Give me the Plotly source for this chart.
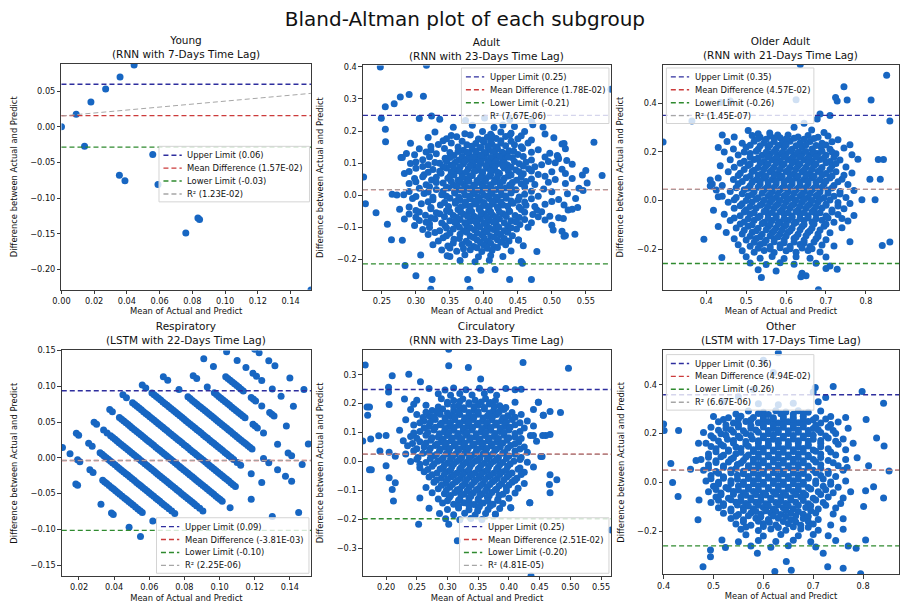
import plotly.graph_objects as go

W, H = 902, 607
FONT = "DejaVu Sans"
POINT_COLOR = "#1766c2"

# ---------------------------------------------------------------- data
panel_names = ["Young", "Adult", "Older Adult", "Respiratory", "Circulatory", "Other"]
model_labels = [
    "RNN with 7-Days Time Lag", "RNN with 23-Days Time Lag", "RNN with 21-Days Time Lag",
    "LSTM with 22-Days Time Lag", "RNN with 23-Days Time Lag", "LSTM with 17-Days Time Lag",
]

# Bland-Altman summary of each subgroup
mean_diff = [1.57e-2, 1.78e-2, 4.57e-2, -3.81e-3, 2.51e-2, 4.94e-2]
upper_limit = [0.0598, 0.2488, 0.3507, 0.0937, 0.2486, 0.3584]
lower_limit = [-0.0284, -0.2132, -0.2593, -0.1013, -0.1984, -0.2596]
r_squared = [1.23e-2, 7.67e-6, 1.45e-7, 2.25e-6, 4.81e-5, 6.67e-6]
fit_slope = [0.208, 0.0, 0.0, 0.0, 0.0, 0.0]
fit_intercept = [0.0153, 0.0178, 0.0457, -0.0038, 0.0251, 0.0494]

# (mean of actual and predicted, actual - predicted)
young_points = [
    (0.0, 0.0), (0.009, 0.0176), (0.018, 0.035), (0.027, 0.053), (0.0358, 0.070),
    (0.0444, 0.087), (0.0141, -0.0273), (0.0558, -0.0389), (0.0354, -0.068),
    (0.0388, -0.0755), (0.059, -0.081), (0.076, -0.149), (0.0834, -0.128),
    (0.0844, -0.130), (0.1525, -0.229),
]

adult_points = [
    (0.335,0.237),(0.373,0.233),(0.401,0.241),(0.438,0.236),(0.47,0.232),
    (0.355,0.212),(0.383,0.218),(0.415,0.211),(0.428,0.219),(0.445,0.214),(0.472,0.22),(0.487,0.213),
    (0.328,0.197),(0.372,0.192),(0.398,0.199),(0.41,0.19),(0.425,0.197),(0.44,0.193),(0.46,0.199),(0.49,0.191),
    (0.318,0.18),(0.345,0.176),(0.36,0.182),(0.392,0.175),(0.405,0.181),(0.418,0.177),(0.432,0.183),(0.45,0.176),(0.503,0.179),
    (0.292,0.162),(0.333,0.158),(0.352,0.163),(0.375,0.157),(0.388,0.161),(0.4,0.165),(0.412,0.158),(0.425,0.162),(0.445,0.157),(0.465,0.163),(0.515,0.16),
    (0.305,0.145),(0.322,0.141),(0.342,0.146),(0.37,0.14),(0.383,0.144),(0.396,0.148),(0.407,0.141),(0.42,0.145),(0.437,0.139),(0.457,0.146),(0.48,0.142),(0.52,0.145),
    (0.286,0.13),(0.298,0.126),(0.33,0.129),(0.356,0.124),(0.378,0.13),(0.392,0.126),(0.403,0.131),(0.418,0.125),(0.43,0.129),(0.45,0.127),(0.497,0.131),(0.508,0.124),
    (0.278,0.118),(0.31,0.111),(0.343,0.115),(0.363,0.109),(0.376,0.114),(0.388,0.11),(0.401,0.116),(0.412,0.109),(0.428,0.113),(0.442,0.117),(0.47,0.11),(0.51,0.114),(0.522,0.108),
    (0.292,0.099),(0.318,0.095),(0.335,0.1),(0.352,0.094),(0.37,0.098),(0.385,0.093),(0.396,0.1),(0.41,0.095),(0.421,0.099),(0.435,0.094),(0.452,0.098),(0.485,0.095),(0.505,0.101),(0.53,0.097),
    (0.30,0.084),(0.325,0.08),(0.345,0.085),(0.36,0.079),(0.377,0.083),(0.39,0.078),(0.405,0.084),(0.415,0.08),(0.43,0.085),(0.447,0.079),(0.466,0.083),(0.515,0.081),
    (0.283,0.068),(0.312,0.064),(0.337,0.069),(0.356,0.063),(0.368,0.067),(0.383,0.062),(0.398,0.068),(0.41,0.064),(0.423,0.069),(0.44,0.063),(0.458,0.067),(0.48,0.065),(0.52,0.068),(0.545,0.063),
    (0.298,0.052),(0.323,0.048),(0.347,0.053),(0.362,0.047),(0.375,0.051),(0.39,0.046),(0.403,0.052),(0.416,0.048),(0.43,0.053),(0.448,0.047),(0.47,0.051),(0.505,0.049),(0.53,0.052),
    (0.29,0.037),(0.315,0.033),(0.34,0.038),(0.355,0.032),(0.37,0.036),(0.385,0.031),(0.397,0.037),(0.41,0.033),(0.424,0.038),(0.438,0.032),(0.455,0.036),(0.475,0.034),(0.52,0.037),
    (0.305,0.022),(0.33,0.018),(0.348,0.023),(0.365,0.017),(0.378,0.021),(0.392,0.016),(0.404,0.022),(0.418,0.018),(0.432,0.023),(0.447,0.017),(0.488,0.02),(0.54,0.022),
    (0.265,0.003),(0.272,0.001),(0.282,0.002),(0.312,0.006),(0.338,0.002),(0.357,0.007),(0.372,0.001),(0.386,0.005),(0.4,0.0),(0.412,0.006),(0.426,0.002),(0.44,0.007),(0.46,0.003),(0.523,0.005),
    (0.295,-0.01),(0.325,-0.014),(0.35,-0.009),(0.365,-0.015),(0.38,-0.011),(0.394,-0.016),(0.408,-0.01),(0.42,-0.014),(0.433,-0.009),(0.45,-0.015),(0.47,-0.011),(0.51,-0.013),(0.535,-0.01),
    (0.308,-0.026),(0.336,-0.03),(0.358,-0.025),(0.372,-0.031),(0.388,-0.027),(0.402,-0.032),(0.414,-0.026),(0.428,-0.03),(0.443,-0.025),(0.462,-0.031),(0.49,-0.028),(0.518,-0.03),
    (0.276,-0.043),(0.3,-0.047),(0.322,-0.042),(0.345,-0.048),(0.362,-0.044),(0.378,-0.049),(0.393,-0.043),(0.407,-0.047),(0.421,-0.042),(0.437,-0.048),(0.455,-0.044),(0.478,-0.046),(0.53,-0.043),
    (0.29,-0.058),(0.314,-0.062),(0.335,-0.057),(0.355,-0.063),(0.37,-0.059),(0.385,-0.064),(0.4,-0.058),(0.413,-0.062),(0.428,-0.057),(0.446,-0.063),(0.472,-0.06),(0.497,-0.065),(0.51,-0.07),
    (0.283,-0.074),(0.305,-0.078),(0.328,-0.073),(0.35,-0.079),(0.365,-0.075),(0.38,-0.08),(0.395,-0.074),(0.408,-0.078),(0.423,-0.073),(0.44,-0.079),(0.46,-0.075),(0.49,-0.077),(0.517,-0.072),
    (0.258,-0.09),(0.298,-0.094),(0.32,-0.089),(0.343,-0.095),(0.36,-0.091),(0.375,-0.096),(0.39,-0.09),(0.404,-0.094),(0.418,-0.089),(0.435,-0.095),(0.453,-0.091),(0.5,-0.093),
    (0.31,-0.106),(0.335,-0.11),(0.355,-0.105),(0.37,-0.111),(0.386,-0.107),(0.4,-0.112),(0.414,-0.106),(0.43,-0.11),(0.448,-0.105),(0.502,-0.108),(0.515,-0.112),
    (0.318,-0.122),(0.345,-0.126),(0.365,-0.121),(0.38,-0.127),(0.397,-0.123),(0.41,-0.128),(0.425,-0.122),(0.442,-0.126),(0.52,-0.125),(0.534,-0.121),
    (0.264,-0.138),(0.28,-0.14),(0.333,-0.142),(0.356,-0.137),(0.374,-0.143),(0.39,-0.139),(0.405,-0.144),(0.42,-0.138),(0.437,-0.142),(0.451,-0.139),
    (0.325,-0.154),(0.347,-0.158),(0.368,-0.153),(0.385,-0.159),(0.4,-0.155),(0.415,-0.16),(0.432,-0.154),(0.458,-0.157),
    (0.338,-0.17),(0.36,-0.174),(0.38,-0.169),(0.397,-0.175),(0.412,-0.171),(0.44,-0.173),(0.478,-0.175),
    (0.307,-0.186),(0.35,-0.19),(0.372,-0.185),(0.392,-0.191),(0.41,-0.187),(0.428,-0.19),
    (0.365,-0.203),(0.387,-0.207),(0.408,-0.202),(0.455,-0.206),
    (0.352,0.186),(0.38,0.188),(0.412,0.184),(0.438,0.187),(0.455,0.185),
    (0.34,0.17),(0.368,0.168),(0.398,0.171),(0.41,0.167),(0.425,0.17),(0.44,0.168),(0.47,0.172),
    (0.322,0.152),(0.362,0.15),(0.382,0.153),(0.394,0.149),(0.406,0.152),(0.418,0.15),(0.432,0.154),(0.455,0.151),
    (0.315,0.135),(0.35,0.133),(0.362,0.136),(0.375,0.134),(0.388,0.137),(0.4,0.133),(0.413,0.136),(0.427,0.134),(0.444,0.137),(0.47,0.134),
    (0.32,0.12),(0.35,0.118),(0.368,0.121),(0.384,0.119),(0.396,0.122),(0.41,0.118),(0.423,0.121),(0.436,0.119),(0.458,0.121),(0.49,0.119),
    (0.3,0.104),(0.328,0.102),(0.345,0.105),(0.358,0.103),(0.372,0.106),(0.382,0.102),(0.394,0.105),(0.406,0.103),(0.418,0.106),(0.43,0.102),(0.445,0.105),(0.462,0.103),(0.495,0.105),
    (0.31,0.09),(0.34,0.088),(0.355,0.091),(0.365,0.089),(0.38,0.092),(0.392,0.088),(0.403,0.091),(0.416,0.089),(0.428,0.092),(0.44,0.088),(0.458,0.091),(0.475,0.089),
    (0.29,0.074),(0.318,0.072),(0.335,0.075),(0.352,0.073),(0.364,0.076),(0.374,0.072),(0.386,0.075),(0.398,0.073),(0.41,0.076),(0.42,0.072),(0.436,0.075),(0.452,0.073),(0.47,0.076),(0.5,0.073),
    (0.31,0.058),(0.33,0.056),(0.35,0.059),(0.368,0.057),(0.38,0.06),(0.395,0.056),(0.408,0.059),(0.42,0.057),(0.436,0.06),(0.455,0.057),(0.49,0.059),
    (0.3,0.042),(0.33,0.04),(0.352,0.043),(0.365,0.041),(0.378,0.044),(0.39,0.04),(0.402,0.043),(0.415,0.041),(0.428,0.044),(0.442,0.04),(0.462,0.043),(0.495,0.041),
    (0.32,0.027),(0.345,0.025),(0.36,0.028),(0.373,0.026),(0.386,0.029),(0.398,0.025),(0.41,0.028),(0.424,0.026),(0.44,0.029),(0.46,0.026),
    (0.29,0.012),(0.318,0.01),(0.34,0.013),(0.357,0.011),(0.37,0.014),(0.384,0.01),(0.397,0.013),(0.41,0.011),(0.425,0.014),(0.44,0.01),(0.47,0.013),(0.5,0.011),
    (0.3,-0.004),(0.325,-0.006),(0.345,-0.003),(0.363,-0.005),(0.378,-0.002),(0.392,-0.006),(0.405,-0.003),(0.418,-0.005),(0.432,-0.002),(0.452,-0.005),(0.48,-0.003),
    (0.318,-0.02),(0.342,-0.022),(0.358,-0.019),(0.373,-0.021),(0.386,-0.018),(0.4,-0.022),(0.412,-0.019),(0.425,-0.021),(0.44,-0.018),(0.46,-0.021),(0.5,-0.019),
    (0.29,-0.036),(0.322,-0.038),(0.348,-0.035),(0.366,-0.037),(0.38,-0.034),(0.395,-0.038),(0.408,-0.035),(0.42,-0.037),(0.435,-0.034),(0.452,-0.037),(0.475,-0.035),
    (0.305,-0.052),(0.33,-0.054),(0.35,-0.051),(0.366,-0.053),(0.382,-0.05),(0.396,-0.054),(0.41,-0.051),(0.423,-0.053),(0.438,-0.05),(0.46,-0.053),(0.485,-0.051),
    (0.3,-0.068),(0.322,-0.07),(0.342,-0.067),(0.36,-0.069),(0.376,-0.066),(0.39,-0.07),(0.404,-0.067),(0.418,-0.069),(0.433,-0.066),(0.452,-0.069),(0.48,-0.067),
    (0.315,-0.084),(0.338,-0.086),(0.357,-0.083),(0.372,-0.085),(0.388,-0.082),(0.4,-0.086),(0.414,-0.083),(0.43,-0.085),(0.447,-0.082),(0.47,-0.085),
    (0.32,-0.1),(0.345,-0.102),(0.364,-0.099),(0.38,-0.101),(0.394,-0.098),(0.408,-0.102),(0.422,-0.099),(0.44,-0.101),(0.465,-0.099),
    (0.328,-0.116),(0.35,-0.118),(0.375,-0.115),(0.39,-0.117),(0.405,-0.114),(0.42,-0.118),(0.435,-0.115),
    (0.34,-0.132),(0.364,-0.134),(0.385,-0.131),(0.4,-0.133),(0.415,-0.13),(0.43,-0.134),
    (0.355,-0.148),(0.378,-0.15),(0.395,-0.147),(0.41,-0.149),(0.425,-0.146),
    (0.35,-0.164),(0.37,-0.166),(0.39,-0.163),(0.405,-0.165),(0.42,-0.162),
    (0.2476,0.399),(0.3155,0.405),(0.223,0.057),(0.2257,-0.026),(0.2413,-0.054),(0.249,0.24),(0.2549,0.276),
    (0.255,0.206),(0.2553,0.167),(0.268,0.285),(0.277,0.306),(0.29,0.314),(0.311,0.308),(0.323,0.247),(0.305,0.239),
    (0.284,-0.218),(0.3,-0.25),(0.3238,-0.262),(0.3218,-0.292),(0.3796,-0.292),(0.3762,-0.262),(0.3956,-0.233),
    (0.4165,-0.231),(0.4379,-0.262),(0.4568,-0.211),(0.47,-0.262),(0.518,-0.127),(0.524,-0.046),(0.538,-0.038),
    (0.546,0.015),(0.552,0.038),(0.55,0.077),(0.562,0.165),(0.574,0.062),(0.587,0.33),(0.518,0.161),(0.509,0.12),
    (0.451,-0.139),(0.28,0.118),(0.346,-0.188),
]

older_points = [
    (0.505,0.288),(0.53,0.275),(0.559,0.278),(0.579,0.27),(0.62,0.302),(0.645,0.318),(0.664,0.29),(0.695,0.28),(0.678,0.336),
    (0.44,0.27),(0.47,0.262),(0.515,0.268),(0.535,0.26),(0.56,0.266),(0.585,0.258),(0.605,0.27),(0.63,0.262),(0.655,0.268),(0.68,0.26),(0.705,0.266),(0.73,0.25),
    (0.452,0.243),(0.49,0.236),(0.52,0.244),(0.545,0.237),(0.57,0.243),(0.59,0.236),(0.61,0.244),(0.635,0.237),(0.66,0.243),(0.69,0.236),(0.715,0.242),(0.76,0.23),
    (0.43,0.218),(0.468,0.212),(0.5,0.219),(0.53,0.211),(0.555,0.218),(0.575,0.212),(0.595,0.219),(0.615,0.211),(0.64,0.218),(0.665,0.212),(0.688,0.219),(0.71,0.211),(0.745,0.216),
    (0.445,0.2),(0.48,0.187),(0.51,0.194),(0.54,0.186),(0.56,0.193),(0.58,0.187),(0.6,0.194),(0.62,0.186),(0.64,0.193),(0.66,0.187),(0.68,0.194),(0.7,0.186),(0.725,0.193),(0.765,0.188),
    (0.46,0.168),(0.495,0.162),(0.52,0.169),(0.545,0.161),(0.565,0.168),(0.585,0.162),(0.605,0.169),(0.625,0.161),(0.645,0.168),(0.665,0.162),(0.685,0.169),(0.71,0.161),(0.735,0.167),(0.78,0.17),
    (0.435,0.143),(0.47,0.137),(0.505,0.144),(0.53,0.136),(0.55,0.143),(0.57,0.137),(0.59,0.144),(0.61,0.136),(0.63,0.143),(0.65,0.137),(0.67,0.144),(0.69,0.136),(0.715,0.143),(0.75,0.138),
    (0.455,0.118),(0.485,0.112),(0.515,0.119),(0.54,0.111),(0.56,0.118),(0.58,0.112),(0.6,0.119),(0.62,0.111),(0.64,0.118),(0.66,0.112),(0.68,0.119),(0.7,0.111),(0.725,0.118),(0.765,0.113),
    (0.43,0.093),(0.468,0.087),(0.5,0.094),(0.525,0.086),(0.545,0.093),(0.565,0.087),(0.585,0.094),(0.605,0.086),(0.625,0.093),(0.645,0.087),(0.665,0.094),(0.685,0.086),(0.71,0.093),(0.74,0.088),(0.81,0.088),
    (0.415,0.068),(0.44,0.062),(0.48,0.069),(0.51,0.061),(0.535,0.068),(0.555,0.062),(0.575,0.069),(0.595,0.061),(0.615,0.068),(0.635,0.062),(0.655,0.069),(0.675,0.061),(0.695,0.068),(0.72,0.062),(0.755,0.066),
    (0.425,0.043),(0.46,0.037),(0.495,0.044),(0.52,0.036),(0.545,0.043),(0.565,0.037),(0.585,0.044),(0.605,0.036),(0.625,0.043),(0.645,0.037),(0.665,0.044),(0.685,0.036),(0.705,0.043),(0.735,0.037),(0.77,0.041),
    (0.44,0.018),(0.475,0.012),(0.505,0.019),(0.53,0.011),(0.555,0.018),(0.575,0.012),(0.595,0.019),(0.615,0.011),(0.635,0.018),(0.655,0.012),(0.675,0.019),(0.695,0.011),(0.72,0.018),(0.75,0.012),(0.79,0.003),
    (0.455,-0.007),(0.49,-0.013),(0.515,-0.006),(0.54,-0.014),(0.56,-0.007),(0.58,-0.013),(0.6,-0.006),(0.62,-0.014),(0.64,-0.007),(0.66,-0.013),(0.68,-0.006),(0.7,-0.014),(0.73,-0.008),(0.76,-0.012),
    (0.418,-0.04),(0.47,-0.032),(0.5,-0.038),(0.525,-0.031),(0.55,-0.039),(0.57,-0.032),(0.59,-0.038),(0.61,-0.031),(0.63,-0.039),(0.65,-0.032),(0.67,-0.038),(0.69,-0.031),(0.715,-0.039),(0.745,-0.034),
    (0.445,-0.057),(0.485,-0.063),(0.51,-0.056),(0.535,-0.064),(0.555,-0.057),(0.575,-0.063),(0.595,-0.056),(0.615,-0.064),(0.635,-0.057),(0.655,-0.063),(0.675,-0.056),(0.7,-0.064),(0.73,-0.058),(0.77,-0.062),
    (0.46,-0.082),(0.495,-0.088),(0.52,-0.081),(0.545,-0.089),(0.565,-0.082),(0.585,-0.088),(0.605,-0.081),(0.625,-0.089),(0.645,-0.082),(0.665,-0.088),(0.69,-0.081),(0.72,-0.089),(0.755,-0.084),
    (0.43,-0.107),(0.475,-0.113),(0.505,-0.106),(0.53,-0.114),(0.555,-0.107),(0.575,-0.113),(0.595,-0.106),(0.615,-0.114),(0.64,-0.107),(0.665,-0.113),(0.695,-0.106),(0.74,-0.112),
    (0.45,-0.132),(0.49,-0.138),(0.515,-0.131),(0.54,-0.139),(0.565,-0.132),(0.585,-0.138),(0.605,-0.131),(0.63,-0.139),(0.655,-0.132),(0.68,-0.138),(0.71,-0.133),
    (0.47,-0.157),(0.5,-0.163),(0.525,-0.156),(0.55,-0.164),(0.57,-0.157),(0.595,-0.163),(0.62,-0.156),(0.645,-0.164),(0.675,-0.157),(0.7,-0.162),(0.76,-0.17),
    (0.48,-0.182),(0.51,-0.188),(0.535,-0.181),(0.56,-0.189),(0.585,-0.182),(0.61,-0.188),(0.635,-0.181),(0.66,-0.189),(0.69,-0.183),(0.72,-0.187),
    (0.49,-0.207),(0.52,-0.213),(0.545,-0.206),(0.57,-0.214),(0.6,-0.207),(0.625,-0.213),(0.655,-0.206),(0.685,-0.212),
    (0.439,-0.235),(0.5,-0.232),(0.535,-0.238),(0.565,-0.231),(0.595,-0.239),(0.625,-0.232),(0.66,-0.238),(0.7,-0.233),
    (0.51,-0.257),(0.55,-0.263),(0.585,-0.256),(0.62,-0.262),(0.675,-0.258),(0.71,-0.27),
    (0.53,-0.285),(0.575,-0.29),(0.64,-0.3),(0.7,-0.28),
    (0.53,0.255),(0.55,0.252),(0.57,0.257),(0.6,0.253),(0.62,0.256),(0.645,0.252),(0.67,0.255),
    (0.51,0.228),(0.535,0.225),(0.56,0.23),(0.58,0.226),(0.6,0.229),(0.625,0.225),(0.65,0.23),(0.675,0.226),(0.7,0.229),
    (0.495,0.2),(0.525,0.203),(0.55,0.199),(0.57,0.202),(0.59,0.198),(0.61,0.203),(0.63,0.199),(0.65,0.202),(0.67,0.198),(0.69,0.203),(0.715,0.2),
    (0.51,0.178),(0.53,0.175),(0.555,0.18),(0.575,0.176),(0.595,0.179),(0.615,0.175),(0.635,0.18),(0.655,0.176),(0.675,0.179),(0.695,0.175),(0.72,0.178),
    (0.485,0.153),(0.51,0.15),(0.535,0.155),(0.555,0.151),(0.575,0.154),(0.595,0.15),(0.615,0.155),(0.635,0.151),(0.655,0.154),(0.675,0.15),(0.7,0.155),(0.725,0.152),
    (0.495,0.128),(0.52,0.125),(0.545,0.13),(0.565,0.126),(0.585,0.129),(0.605,0.125),(0.625,0.13),(0.645,0.126),(0.665,0.129),(0.685,0.125),(0.71,0.128),
    (0.48,0.103),(0.51,0.1),(0.53,0.105),(0.55,0.101),(0.57,0.104),(0.59,0.1),(0.61,0.105),(0.63,0.101),(0.65,0.104),(0.67,0.1),(0.69,0.105),(0.715,0.101),(0.745,0.104),
    (0.49,0.078),(0.515,0.075),(0.535,0.08),(0.555,0.076),(0.575,0.079),(0.595,0.075),(0.615,0.08),(0.635,0.076),(0.655,0.079),(0.675,0.075),(0.7,0.08),(0.73,0.077),
    (0.475,0.053),(0.505,0.05),(0.53,0.055),(0.55,0.051),(0.57,0.054),(0.59,0.05),(0.61,0.055),(0.63,0.051),(0.65,0.054),(0.67,0.05),(0.69,0.055),(0.715,0.052),
    (0.49,0.028),(0.515,0.025),(0.54,0.03),(0.56,0.026),(0.58,0.029),(0.6,0.025),(0.62,0.03),(0.64,0.026),(0.66,0.029),(0.68,0.025),(0.705,0.03),(0.735,0.027),
    (0.47,0.003),(0.5,0.0),(0.525,0.005),(0.545,0.001),(0.565,0.004),(0.585,0.0),(0.605,0.005),(0.625,0.001),(0.645,0.004),(0.665,0.0),(0.685,0.005),(0.71,0.002),
    (0.485,-0.022),(0.51,-0.025),(0.535,-0.02),(0.555,-0.024),(0.575,-0.021),(0.595,-0.025),(0.615,-0.02),(0.635,-0.024),(0.655,-0.021),(0.675,-0.025),(0.7,-0.02),(0.73,-0.023),
    (0.495,-0.047),(0.52,-0.05),(0.545,-0.045),(0.565,-0.049),(0.585,-0.046),(0.605,-0.05),(0.625,-0.045),(0.645,-0.049),(0.665,-0.046),(0.685,-0.05),(0.715,-0.047),
    (0.47,-0.072),(0.505,-0.075),(0.53,-0.07),(0.555,-0.074),(0.575,-0.071),(0.595,-0.075),(0.615,-0.07),(0.635,-0.074),(0.655,-0.071),(0.675,-0.075),(0.705,-0.072),(0.74,-0.074),
    (0.485,-0.097),(0.515,-0.1),(0.54,-0.095),(0.56,-0.099),(0.58,-0.096),(0.6,-0.1),(0.62,-0.095),(0.645,-0.099),(0.67,-0.096),(0.7,-0.098),
    (0.495,-0.122),(0.525,-0.125),(0.55,-0.12),(0.57,-0.124),(0.59,-0.121),(0.61,-0.125),(0.635,-0.12),(0.66,-0.124),(0.685,-0.121),
    (0.51,-0.147),(0.535,-0.15),(0.56,-0.145),(0.58,-0.149),(0.6,-0.146),(0.625,-0.15),(0.65,-0.145),(0.68,-0.148),
    (0.52,-0.172),(0.545,-0.175),(0.57,-0.17),(0.595,-0.174),(0.62,-0.171),(0.645,-0.175),(0.67,-0.171),
    (0.53,-0.197),(0.56,-0.2),(0.585,-0.195),(0.61,-0.199),(0.64,-0.196),(0.665,-0.199),
    (0.2917,0.241),(0.6355,0.56),(0.852,0.516),(0.86,0.327),(0.724,0.424),(0.728,0.41),(0.753,0.414),(0.813,0.414),
    (0.685,0.356),(0.71,0.35),(0.745,0.468),(0.436,0.404),(0.46,0.41),(0.831,0.169),(0.844,0.169),(0.836,0.088),
    (0.823,0.003),(0.841,-0.185),(0.86,-0.171),(0.394,-0.16),(0.538,-0.317),(0.637,-0.314),(0.65,-0.31),(0.681,-0.367),
    (0.728,-0.283),(0.41,0.084),(0.41,0.06),(0.43,0.016),(0.625,0.415),(0.364,0.327),
]

# respiratory counts are discrete, so each row holds the predictions made
# for days sharing the same actual value
resp_actual = [0.0, 0.0178, 0.0356, 0.0534, 0.0712, 0.089, 0.1068, 0.1246, 0.1424, 0.1602, 0.178, 0.1958]
resp_predicted = [
    [0.0364, 0.0384, 0.065, 0.077, 0.079, 0.097, 0.110],
    [0.0034, 0.012, 0.0206, 0.0232, 0.0346, 0.0382, 0.0492, 0.0538, 0.0592, 0.0638, 0.0686, 0.0742, 0.0788, 0.0838, 0.0892, 0.0942, 0.1062,
     0.0515, 0.0565, 0.0615, 0.0662, 0.0714, 0.0765, 0.0813, 0.0865, 0.0917],
    [0.0014, 0.004, 0.0154, 0.0194, 0.0284, 0.033, 0.038, 0.0428, 0.048, 0.0528, 0.0578, 0.0624, 0.0674, 0.0724, 0.077, 0.082, 0.0868, 0.092, 0.0964, 0.1014, 0.1068, 0.1134,
     0.0307, 0.0355, 0.0404, 0.0454, 0.0504, 0.0553, 0.0601, 0.0649, 0.0699, 0.0747, 0.0795, 0.0844, 0.0894, 0.0942, 0.0989, 0.104, 0.11],
    [0.0038, 0.0066, 0.0146, 0.0226, 0.0276, 0.0322, 0.0372, 0.0422, 0.047, 0.052, 0.057, 0.0616, 0.0666, 0.0716, 0.0762, 0.0812, 0.0862, 0.091, 0.096, 0.1006, 0.1056, 0.1106, 0.1156, 0.1206, 0.1276,
     0.0186, 0.0251, 0.0299, 0.0347, 0.0397, 0.0446, 0.0495, 0.0545, 0.0593, 0.0641, 0.0691, 0.0739, 0.0787, 0.0837, 0.0886, 0.0935, 0.0983, 0.1031, 0.1081, 0.1131, 0.118, 0.124],
    [0.0038, 0.0068, 0.0148, 0.0198, 0.0248, 0.0294, 0.0344, 0.0394, 0.0442, 0.0488, 0.0538, 0.0588, 0.0634, 0.0684, 0.0732, 0.0782, 0.0832, 0.0878, 0.0928, 0.0978, 0.1024, 0.1074, 0.1124, 0.1172, 0.1222, 0.1272, 0.1318, 0.1408,
     0.0173, 0.0223, 0.0271, 0.0319, 0.0369, 0.0418, 0.0465, 0.0513, 0.0563, 0.0611, 0.0659, 0.0708, 0.0757, 0.0805, 0.0853, 0.0903, 0.0951, 0.1001, 0.1049, 0.1099, 0.1148, 0.1197, 0.1247, 0.1295],
    [0.001, 0.005, 0.012, 0.017, 0.022, 0.027, 0.0316, 0.0366, 0.0414, 0.0464, 0.051, 0.056, 0.061, 0.0656, 0.0706, 0.0754, 0.0804, 0.085, 0.09, 0.095, 0.0996, 0.1046, 0.1094, 0.1144, 0.119, 0.124, 0.129, 0.147, 0.171,
     0.0145, 0.0195, 0.0245, 0.0293, 0.0341, 0.039, 0.0439, 0.0487, 0.0535, 0.0585, 0.0633, 0.0681, 0.073, 0.0779, 0.0827, 0.0875, 0.0925, 0.0973, 0.1021, 0.107, 0.1119, 0.1167, 0.1215, 0.1265],
    [0.0052, 0.0092, 0.0162, 0.0212, 0.0262, 0.0312, 0.0358, 0.0408, 0.0456, 0.0506, 0.0552, 0.0602, 0.0652, 0.0698, 0.0748, 0.0796, 0.0846, 0.0892, 0.0942, 0.0992, 0.1038, 0.1092, 0.1172, 0.1292, 0.1412, 0.1832,
     0.0187, 0.0237, 0.0287, 0.0335, 0.0383, 0.0432, 0.0481, 0.0529, 0.0577, 0.0627, 0.0675, 0.0723, 0.0772, 0.0821, 0.0869, 0.0917, 0.0967, 0.1015, 0.1065, 0.1132],
    [0.0114, 0.0164, 0.0292, 0.0394, 0.0444, 0.0494, 0.054, 0.059, 0.0638, 0.0688, 0.0734, 0.0784, 0.0834, 0.088, 0.093, 0.0978, 0.1028, 0.1074, 0.1124, 0.1254, 0.1314, 0.1414, 0.1504, 0.1574,
     0.0419, 0.0469, 0.0517, 0.0565, 0.0614, 0.0663, 0.0711, 0.0759, 0.0809, 0.0857, 0.0905, 0.0954, 0.1003, 0.1051, 0.1099],
    [0.0276, 0.0316, 0.0436, 0.0516, 0.0566, 0.0616, 0.0666, 0.0716, 0.0766, 0.0816, 0.0866, 0.0956, 0.1006, 0.1076, 0.1236, 0.1356, 0.1396, 0.1516,
     0.0541, 0.0591, 0.0641, 0.0691, 0.0741, 0.0791, 0.0841, 0.0981],
    [0.0018, 0.0218, 0.0328, 0.0468, 0.0518, 0.0568, 0.0618, 0.0668, 0.0758, 0.0808, 0.0878, 0.0968, 0.1018, 0.1158, 0.1408,
     0.0493, 0.0543, 0.0593, 0.0643, 0.0783, 0.0993],
    [0.023, 0.030, 0.042, 0.052, 0.060, 0.064, 0.070, 0.082, 0.092, 0.106],
    [0.0442, 0.0492, 0.0602, 0.0672, 0.0842, 0.1002],
]

circ_points = [
    (0.27,0.252),(0.296,0.247),(0.31,0.254),(0.33,0.248),(0.352,0.253),(0.37,0.247),(0.395,0.252),(0.41,0.248),
    (0.285,0.234),(0.305,0.229),(0.32,0.235),(0.34,0.23),(0.36,0.235),(0.38,0.229),
    (0.23,0.216),(0.25,0.212),(0.29,0.217),(0.31,0.211),(0.325,0.216),(0.345,0.212),(0.362,0.217),(0.378,0.211),(0.41,0.205),
    (0.245,0.198),(0.265,0.194),(0.3,0.199),(0.318,0.193),(0.335,0.198),(0.35,0.194),(0.368,0.199),(0.385,0.193),(0.448,0.205),
    (0.24,0.18),(0.275,0.176),(0.292,0.181),(0.31,0.175),(0.327,0.18),(0.343,0.176),(0.36,0.181),(0.375,0.175),(0.392,0.18),(0.44,0.18),
    (0.25,0.162),(0.27,0.158),(0.288,0.163),(0.305,0.157),(0.32,0.162),(0.335,0.158),(0.35,0.163),(0.365,0.157),(0.38,0.162),(0.398,0.158),(0.42,0.162),(0.456,0.16),
    (0.232,0.144),(0.262,0.14),(0.28,0.145),(0.297,0.139),(0.312,0.144),(0.327,0.14),(0.342,0.145),(0.357,0.139),(0.372,0.144),(0.388,0.14),(0.405,0.145),(0.43,0.14),
    (0.245,0.126),(0.27,0.122),(0.288,0.127),(0.303,0.121),(0.318,0.126),(0.333,0.122),(0.348,0.127),(0.363,0.121),(0.378,0.126),(0.393,0.122),(0.41,0.127),(0.44,0.123),
    (0.222,0.108),(0.255,0.104),(0.278,0.109),(0.295,0.103),(0.31,0.108),(0.325,0.104),(0.34,0.109),(0.355,0.103),(0.37,0.108),(0.385,0.104),(0.4,0.109),(0.418,0.104),
    (0.2,0.09),(0.24,0.086),(0.265,0.091),(0.285,0.085),(0.3,0.09),(0.316,0.086),(0.331,0.091),(0.346,0.085),(0.361,0.09),(0.376,0.086),(0.392,0.091),(0.41,0.085),(0.435,0.09),(0.46,0.09),
    (0.228,0.072),(0.255,0.068),(0.273,0.073),(0.29,0.067),(0.306,0.072),(0.321,0.068),(0.336,0.073),(0.351,0.067),(0.366,0.072),(0.381,0.068),(0.397,0.073),(0.416,0.067),(0.445,0.07),
    (0.235,0.054),(0.262,0.05),(0.28,0.055),(0.296,0.049),(0.311,0.054),(0.326,0.05),(0.341,0.055),(0.356,0.049),(0.371,0.054),(0.386,0.05),(0.403,0.055),(0.425,0.05),
    (0.19,0.036),(0.205,0.032),(0.245,0.037),(0.27,0.031),(0.287,0.036),(0.302,0.032),(0.317,0.037),(0.332,0.031),(0.347,0.036),(0.362,0.032),(0.377,0.037),(0.393,0.031),(0.41,0.036),(0.43,0.032),
    (0.215,0.018),(0.252,0.014),(0.277,0.019),(0.293,0.013),(0.308,0.018),(0.323,0.014),(0.338,0.019),(0.353,0.013),(0.368,0.018),(0.383,0.014),(0.4,0.019),(0.42,0.014),(0.452,0.017),
    (0.24,0.0),(0.265,-0.004),(0.284,0.001),(0.3,-0.005),(0.315,0.0),(0.33,-0.004),(0.345,0.001),(0.36,-0.005),(0.375,0.0),(0.39,-0.004),(0.408,0.001),(0.43,-0.003),
    (0.2,-0.015),(0.255,-0.022),(0.275,-0.017),(0.292,-0.023),(0.307,-0.018),(0.322,-0.022),(0.337,-0.017),(0.352,-0.023),(0.367,-0.018),(0.382,-0.022),(0.398,-0.017),(0.418,-0.023),(0.44,-0.019),
    (0.262,-0.036),(0.283,-0.04),(0.3,-0.035),(0.315,-0.041),(0.33,-0.036),(0.345,-0.04),(0.36,-0.035),(0.375,-0.041),(0.39,-0.036),(0.405,-0.04),(0.425,-0.037),
    (0.205,-0.056),(0.27,-0.054),(0.29,-0.058),(0.306,-0.053),(0.321,-0.059),(0.336,-0.054),(0.351,-0.058),(0.366,-0.053),(0.381,-0.059),(0.397,-0.054),(0.413,-0.058),(0.467,-0.046),
    (0.215,-0.074),(0.278,-0.072),(0.297,-0.076),(0.313,-0.071),(0.328,-0.077),(0.343,-0.072),(0.358,-0.076),(0.373,-0.071),(0.388,-0.077),(0.405,-0.072),(0.425,-0.076),(0.466,-0.08),
    (0.265,-0.09),(0.285,-0.094),(0.304,-0.089),(0.32,-0.095),(0.335,-0.09),(0.35,-0.094),(0.365,-0.089),(0.38,-0.095),(0.396,-0.09),(0.415,-0.093),
    (0.275,-0.108),(0.295,-0.112),(0.312,-0.107),(0.327,-0.113),(0.342,-0.108),(0.357,-0.112),(0.372,-0.107),(0.39,-0.113),(0.41,-0.109),(0.467,-0.108),
    (0.255,-0.126),(0.285,-0.13),(0.303,-0.125),(0.32,-0.131),(0.335,-0.126),(0.35,-0.13),(0.365,-0.125),(0.382,-0.131),(0.4,-0.127),
    (0.292,-0.144),(0.31,-0.148),(0.327,-0.143),(0.343,-0.149),(0.358,-0.144),(0.374,-0.148),(0.39,-0.145),(0.434,-0.143),
    (0.27,-0.162),(0.3,-0.166),(0.318,-0.161),(0.335,-0.167),(0.35,-0.162),(0.366,-0.166),(0.385,-0.163),(0.403,-0.16),
    (0.287,-0.18),(0.31,-0.184),(0.328,-0.179),(0.345,-0.185),(0.362,-0.18),(0.378,-0.183),
    (0.297,-0.198),(0.32,-0.202),(0.338,-0.197),(0.356,-0.201),
    (0.3,0.205),(0.32,0.207),(0.335,0.203),(0.355,0.206),(0.37,0.204),
    (0.285,0.188),(0.31,0.19),(0.326,0.186),(0.343,0.189),(0.36,0.187),(0.376,0.19),(0.395,0.187),
    (0.265,0.17),(0.283,0.172),(0.3,0.168),(0.318,0.171),(0.335,0.169),(0.35,0.172),(0.368,0.168),(0.384,0.171),(0.405,0.169),
    (0.26,0.152),(0.278,0.154),(0.296,0.15),(0.312,0.153),(0.328,0.151),(0.343,0.154),(0.358,0.15),(0.373,0.153),(0.39,0.151),(0.41,0.153),
    (0.255,0.134),(0.272,0.136),(0.29,0.132),(0.305,0.135),(0.32,0.133),(0.335,0.136),(0.35,0.132),(0.365,0.135),(0.38,0.133),(0.396,0.136),(0.418,0.134),
    (0.262,0.116),(0.28,0.118),(0.296,0.114),(0.311,0.117),(0.326,0.115),(0.341,0.118),(0.356,0.114),(0.371,0.117),(0.386,0.115),(0.402,0.118),(0.425,0.116),
    (0.245,0.098),(0.268,0.1),(0.287,0.096),(0.302,0.099),(0.317,0.097),(0.332,0.1),(0.347,0.096),(0.362,0.099),(0.377,0.097),(0.392,0.1),(0.41,0.097),
    (0.25,0.08),(0.275,0.082),(0.293,0.078),(0.308,0.081),(0.323,0.079),(0.338,0.082),(0.353,0.078),(0.368,0.081),(0.383,0.079),(0.4,0.082),(0.42,0.079),
    (0.243,0.062),(0.265,0.064),(0.283,0.06),(0.298,0.063),(0.313,0.061),(0.328,0.064),(0.343,0.06),(0.358,0.063),(0.373,0.061),(0.39,0.064),(0.41,0.061),
    (0.25,0.044),(0.272,0.046),(0.288,0.042),(0.304,0.045),(0.319,0.043),(0.334,0.046),(0.349,0.042),(0.364,0.045),(0.38,0.043),(0.398,0.046),(0.418,0.043),
    (0.232,0.026),(0.26,0.028),(0.282,0.024),(0.298,0.027),(0.313,0.025),(0.328,0.028),(0.343,0.024),(0.358,0.027),(0.373,0.025),(0.39,0.028),(0.41,0.025),
    (0.25,0.008),(0.272,0.01),(0.29,0.006),(0.305,0.009),(0.32,0.007),(0.335,0.01),(0.35,0.006),(0.365,0.009),(0.38,0.007),(0.396,0.01),(0.418,0.007),
    (0.255,-0.01),(0.278,-0.008),(0.295,-0.012),(0.31,-0.009),(0.325,-0.011),(0.34,-0.008),(0.355,-0.012),(0.37,-0.009),(0.385,-0.011),(0.402,-0.009),
    (0.268,-0.028),(0.288,-0.026),(0.305,-0.03),(0.32,-0.027),(0.335,-0.029),(0.35,-0.026),(0.365,-0.03),(0.38,-0.027),(0.396,-0.029),(0.415,-0.027),
    (0.275,-0.046),(0.295,-0.044),(0.31,-0.048),(0.325,-0.045),(0.34,-0.047),(0.355,-0.044),(0.37,-0.048),(0.385,-0.045),(0.4,-0.047),(0.42,-0.045),
    (0.282,-0.064),(0.3,-0.062),(0.316,-0.066),(0.331,-0.063),(0.346,-0.065),(0.361,-0.062),(0.376,-0.066),(0.392,-0.063),(0.41,-0.065),
    (0.29,-0.082),(0.308,-0.08),(0.324,-0.084),(0.339,-0.081),(0.354,-0.083),(0.369,-0.08),(0.384,-0.084),(0.4,-0.081),
    (0.298,-0.1),(0.316,-0.098),(0.332,-0.102),(0.347,-0.099),(0.362,-0.101),(0.378,-0.098),(0.396,-0.101),
    (0.305,-0.118),(0.322,-0.116),(0.338,-0.12),(0.353,-0.117),(0.368,-0.119),(0.384,-0.117),
    (0.3,-0.136),(0.318,-0.134),(0.335,-0.138),(0.35,-0.135),(0.366,-0.137),(0.382,-0.135),
    (0.318,-0.154),(0.335,-0.152),(0.352,-0.156),(0.37,-0.153),
    (0.166,0.334),(0.162,0.071),(0.169,0.188),(0.173,0.188),(0.17,0.16),(0.175,0.078),(0.173,-0.029),(0.176,-0.029),
    (0.188,0.089),(0.204,0.257),(0.204,0.24),(0.21,0.296),(0.205,0.197),(0.21,-0.097),(0.212,-0.137),(0.237,0.302),
    (0.256,0.276),(0.302,0.388),(0.302,0.331),(0.334,0.325),(0.354,0.285),(0.423,0.342),(0.497,0.322),(0.484,0.169),
    (0.467,0.173),(0.448,0.205),(0.456,0.16),(0.467,0.093),(0.454,0.017),(0.478,-0.063),(0.434,-0.143),(0.436,-0.396),
    (0.316,-0.274),(0.253,-0.217),(0.302,-0.217),(0.349,-0.171),(0.378,-0.183),(0.403,-0.16),(0.409,-0.065),
    (0.5666,-0.237),(0.42,0.25),(0.44,0.09),(0.455,0.09),
]

other_points = [
    (0.59,0.322),(0.63,0.318),(0.66,0.324),(0.70,0.37),(0.725,0.347),(0.74,0.392),(0.704,0.388),(0.71,0.33),
    (0.57,0.292),(0.6,0.287),(0.625,0.293),(0.645,0.288),(0.67,0.293),(0.69,0.287),(0.715,0.292),
    (0.5,0.27),(0.53,0.265),(0.555,0.271),(0.58,0.266),(0.6,0.271),(0.62,0.265),(0.64,0.27),(0.66,0.266),(0.68,0.271),(0.705,0.265),(0.735,0.27),(0.765,0.266),
    (0.51,0.248),(0.54,0.243),(0.565,0.249),(0.59,0.244),(0.61,0.249),(0.63,0.243),(0.65,0.248),(0.67,0.244),(0.69,0.249),(0.715,0.243),(0.75,0.247),
    (0.495,0.226),(0.525,0.221),(0.55,0.227),(0.575,0.222),(0.6,0.227),(0.62,0.221),(0.64,0.226),(0.66,0.222),(0.68,0.227),(0.7,0.221),(0.73,0.226),(0.77,0.222),
    (0.48,0.204),(0.515,0.199),(0.54,0.205),(0.565,0.2),(0.59,0.205),(0.61,0.199),(0.63,0.204),(0.65,0.2),(0.67,0.205),(0.69,0.199),(0.715,0.204),(0.745,0.2),
    (0.5,0.182),(0.528,0.177),(0.553,0.183),(0.578,0.178),(0.6,0.183),(0.62,0.177),(0.64,0.182),(0.66,0.178),(0.68,0.183),(0.7,0.177),(0.73,0.182),(0.76,0.178),
    (0.485,0.16),(0.515,0.155),(0.54,0.161),(0.565,0.156),(0.59,0.161),(0.61,0.155),(0.63,0.16),(0.65,0.156),(0.67,0.161),(0.69,0.155),(0.715,0.16),(0.75,0.156),(0.78,0.16),
    (0.505,0.138),(0.53,0.133),(0.555,0.139),(0.58,0.134),(0.6,0.139),(0.62,0.133),(0.64,0.138),(0.66,0.134),(0.68,0.139),(0.7,0.133),(0.73,0.138),(0.765,0.134),
    (0.49,0.116),(0.52,0.111),(0.545,0.117),(0.57,0.112),(0.59,0.117),(0.61,0.111),(0.63,0.116),(0.65,0.112),(0.67,0.117),(0.69,0.111),(0.715,0.116),(0.745,0.112),
    (0.475,0.094),(0.505,0.089),(0.535,0.095),(0.56,0.09),(0.58,0.095),(0.6,0.089),(0.62,0.094),(0.64,0.09),(0.66,0.095),(0.68,0.089),(0.7,0.094),(0.73,0.09),(0.765,0.094),
    (0.49,0.072),(0.52,0.067),(0.548,0.073),(0.57,0.068),(0.59,0.073),(0.61,0.067),(0.63,0.072),(0.65,0.068),(0.67,0.073),(0.69,0.067),(0.715,0.072),(0.75,0.068),
    (0.48,0.05),(0.505,0.045),(0.535,0.051),(0.56,0.046),(0.58,0.051),(0.6,0.045),(0.62,0.05),(0.64,0.046),(0.66,0.051),(0.68,0.045),(0.7,0.05),(0.73,0.046),(0.76,0.05),
    (0.495,0.028),(0.52,0.023),(0.548,0.029),(0.57,0.024),(0.59,0.029),(0.61,0.023),(0.63,0.028),(0.65,0.024),(0.67,0.029),(0.69,0.023),(0.715,0.028),(0.745,0.024),
    (0.485,0.006),(0.51,0.001),(0.535,0.007),(0.56,0.002),(0.58,0.007),(0.6,0.001),(0.62,0.006),(0.64,0.002),(0.66,0.007),(0.68,0.001),(0.705,0.006),(0.735,0.002),(0.765,0.006),
    (0.5,-0.016),(0.525,-0.021),(0.55,-0.015),(0.57,-0.02),(0.59,-0.015),(0.61,-0.021),(0.63,-0.016),(0.65,-0.02),(0.67,-0.015),(0.69,-0.021),(0.72,-0.016),(0.75,-0.02),
    (0.49,-0.038),(0.515,-0.043),(0.54,-0.037),(0.56,-0.042),(0.58,-0.037),(0.6,-0.043),(0.62,-0.038),(0.64,-0.042),(0.66,-0.037),(0.68,-0.043),(0.71,-0.038),(0.74,-0.042),(0.775,-0.038),
    (0.505,-0.06),(0.53,-0.065),(0.555,-0.059),(0.575,-0.064),(0.595,-0.059),(0.615,-0.065),(0.635,-0.06),(0.655,-0.064),(0.675,-0.059),(0.7,-0.065),(0.73,-0.06),(0.76,-0.064),
    (0.495,-0.082),(0.52,-0.087),(0.545,-0.081),(0.565,-0.086),(0.585,-0.081),(0.605,-0.087),(0.625,-0.082),(0.645,-0.086),(0.665,-0.081),(0.69,-0.087),(0.72,-0.082),(0.755,-0.086),
    (0.51,-0.104),(0.535,-0.109),(0.56,-0.103),(0.58,-0.108),(0.6,-0.103),(0.62,-0.109),(0.64,-0.104),(0.66,-0.108),(0.685,-0.103),(0.71,-0.109),(0.745,-0.105),
    (0.52,-0.126),(0.55,-0.131),(0.575,-0.125),(0.595,-0.13),(0.615,-0.125),(0.635,-0.131),(0.655,-0.126),(0.68,-0.13),(0.705,-0.125),(0.74,-0.129),
    (0.535,-0.148),(0.56,-0.153),(0.585,-0.147),(0.61,-0.152),(0.63,-0.147),(0.655,-0.153),(0.68,-0.148),(0.71,-0.152),(0.76,-0.149),
    (0.545,-0.17),(0.575,-0.175),(0.6,-0.169),(0.625,-0.174),(0.65,-0.169),(0.675,-0.175),(0.7,-0.17),(0.735,-0.174),
    (0.555,-0.192),(0.59,-0.197),(0.615,-0.191),(0.645,-0.196),(0.675,-0.191),(0.71,-0.196),(0.76,-0.192),
    (0.565,-0.214),(0.6,-0.219),(0.635,-0.213),(0.67,-0.218),(0.7,-0.213),(0.73,-0.218),
    (0.517,-0.236),(0.55,-0.243),(0.59,-0.238),(0.625,-0.242),(0.66,-0.237),(0.695,-0.243),(0.745,-0.238),
    (0.524,-0.266),(0.575,-0.26),(0.615,-0.265),(0.65,-0.259),(0.705,-0.264),(0.77,-0.26),
    (0.588,-0.29),(0.646,-0.324),(0.72,-0.29),
    (0.545,0.28),(0.59,0.282),(0.61,0.278),(0.635,0.281),(0.66,0.279),(0.68,0.282),
    (0.52,0.257),(0.55,0.259),(0.575,0.255),(0.6,0.258),(0.62,0.256),(0.64,0.259),(0.66,0.255),(0.68,0.258),(0.7,0.256),(0.725,0.259),
    (0.525,0.235),(0.55,0.237),(0.575,0.233),(0.6,0.236),(0.62,0.234),(0.64,0.237),(0.66,0.233),(0.68,0.236),(0.705,0.234),(0.735,0.237),
    (0.51,0.213),(0.535,0.215),(0.56,0.211),(0.585,0.214),(0.61,0.212),(0.63,0.215),(0.65,0.211),(0.67,0.214),(0.69,0.212),(0.71,0.215),(0.74,0.212),
    (0.495,0.191),(0.525,0.193),(0.55,0.189),(0.575,0.192),(0.6,0.19),(0.62,0.193),(0.64,0.189),(0.66,0.192),(0.68,0.19),(0.7,0.193),(0.725,0.19),
    (0.51,0.169),(0.54,0.171),(0.565,0.167),(0.59,0.17),(0.61,0.168),(0.63,0.171),(0.65,0.167),(0.67,0.17),(0.69,0.168),(0.715,0.171),(0.745,0.168),
    (0.495,0.147),(0.52,0.149),(0.545,0.145),(0.57,0.148),(0.59,0.146),(0.61,0.149),(0.63,0.145),(0.65,0.148),(0.67,0.146),(0.69,0.149),(0.715,0.146),
    (0.505,0.125),(0.53,0.127),(0.555,0.123),(0.58,0.126),(0.6,0.124),(0.62,0.127),(0.64,0.123),(0.66,0.126),(0.68,0.124),(0.705,0.127),(0.735,0.124),
    (0.49,0.103),(0.515,0.105),(0.54,0.101),(0.565,0.104),(0.59,0.102),(0.61,0.105),(0.63,0.101),(0.65,0.104),(0.67,0.102),(0.69,0.105),(0.715,0.102),
    (0.505,0.081),(0.53,0.083),(0.555,0.079),(0.58,0.082),(0.6,0.08),(0.62,0.083),(0.64,0.079),(0.66,0.082),(0.68,0.08),(0.705,0.083),(0.74,0.08),
    (0.49,0.059),(0.52,0.061),(0.545,0.057),(0.57,0.06),(0.59,0.058),(0.61,0.061),(0.63,0.057),(0.65,0.06),(0.67,0.058),(0.69,0.061),(0.715,0.058),
    (0.51,0.037),(0.535,0.039),(0.56,0.035),(0.58,0.038),(0.6,0.036),(0.62,0.039),(0.64,0.035),(0.66,0.038),(0.68,0.036),(0.705,0.039),(0.73,0.036),
    (0.495,0.015),(0.52,0.017),(0.548,0.013),(0.57,0.016),(0.59,0.014),(0.61,0.017),(0.63,0.013),(0.65,0.016),(0.67,0.014),(0.69,0.017),(0.72,0.014),
    (0.51,-0.007),(0.535,-0.005),(0.56,-0.009),(0.58,-0.006),(0.6,-0.008),(0.62,-0.005),(0.64,-0.009),(0.66,-0.006),(0.68,-0.008),(0.705,-0.005),(0.735,-0.008),
    (0.505,-0.029),(0.53,-0.027),(0.55,-0.031),(0.57,-0.028),(0.59,-0.03),(0.61,-0.027),(0.63,-0.031),(0.65,-0.028),(0.67,-0.03),(0.695,-0.027),(0.725,-0.03),
    (0.515,-0.051),(0.54,-0.049),(0.565,-0.053),(0.585,-0.05),(0.605,-0.052),(0.625,-0.049),(0.645,-0.053),(0.665,-0.05),(0.685,-0.052),(0.715,-0.05),
    (0.51,-0.073),(0.535,-0.071),(0.555,-0.075),(0.575,-0.072),(0.595,-0.074),(0.615,-0.071),(0.635,-0.075),(0.655,-0.072),(0.68,-0.074),(0.705,-0.072),
    (0.52,-0.095),(0.548,-0.093),(0.57,-0.097),(0.59,-0.094),(0.61,-0.096),(0.63,-0.093),(0.65,-0.097),(0.67,-0.094),(0.695,-0.096),(0.725,-0.094),
    (0.535,-0.117),(0.56,-0.115),(0.585,-0.119),(0.605,-0.116),(0.625,-0.118),(0.645,-0.115),(0.67,-0.119),(0.695,-0.116),
    (0.545,-0.139),(0.57,-0.137),(0.595,-0.141),(0.62,-0.138),(0.645,-0.14),(0.665,-0.137),(0.69,-0.14),
    (0.56,-0.161),(0.59,-0.159),(0.612,-0.163),(0.64,-0.16),(0.665,-0.162),(0.69,-0.16),
    (0.565,-0.183),(0.6,-0.181),(0.63,-0.185),(0.66,-0.182),(0.69,-0.184),
    (0.4,0.239),(0.401,0.212),(0.43,0.212),(0.4145,0.077),(0.418,0.0),(0.429,-0.058),(0.454,0.054),(0.471,-0.072),
    (0.469,-0.153),(0.479,-0.345),(0.494,-0.277),(0.494,-0.304),(0.623,-0.365),(0.656,-0.36),(0.729,-0.345),(0.76,-0.351),
    (0.795,-0.374),(0.786,-0.27),(0.805,-0.236),(0.801,-0.099),(0.805,-0.034),(0.821,-0.018),(0.841,-0.064),(0.852,0.047),
    (0.827,0.182),(0.842,0.149),(0.841,0.324),(0.806,0.257),(0.798,0.372),(0.788,0.101),(0.768,0.061),(0.811,0.068),
    (0.63,0.53),(0.6,0.5),(0.62,0.45),(0.58,0.38),(0.55,0.35),(0.52,0.33),(0.47,0.16),(0.465,0.09),
]

# axis tick values of each panel
x_ticks = [
    [0.00, 0.02, 0.04, 0.06, 0.08, 0.10, 0.12, 0.14],
    [0.25, 0.30, 0.35, 0.40, 0.45, 0.50, 0.55],
    [0.4, 0.5, 0.6, 0.7, 0.8],
    [0.02, 0.04, 0.06, 0.08, 0.10, 0.12, 0.14],
    [0.20, 0.25, 0.30, 0.35, 0.40, 0.45, 0.50, 0.55],
    [0.4, 0.5, 0.6, 0.7, 0.8],
]
y_ticks = [
    [-0.20, -0.15, -0.10, -0.05, 0.00, 0.05],
    [-0.2, -0.1, 0.0, 0.1, 0.2, 0.3, 0.4],
    [-0.2, 0.0, 0.2, 0.4],
    [-0.15, -0.10, -0.05, 0.00, 0.05, 0.10, 0.15],
    [-0.3, -0.2, -0.1, 0.0, 0.1, 0.2, 0.3],
    [-0.2, 0.0, 0.2, 0.4],
]
x_fmt = [".2f", ".2f", ".1f", ".2f", ".2f", ".1f"]
y_fmt = [".2f", ".1f", ".1f", ".2f", ".1f", ".1f"]

# ---------------------------------------------------------------- layout
# plot frames in pixels: left, top, right, bottom
frames = [
    (53.0, 59.3, 305.0, 287.0),
    (357.5, 61.0, 608.0, 287.0),
    (660.5, 60.0, 899.0, 287.0),
    (53.3, 348.3, 305.0, 575.7),
    (357.3, 347.7, 608.3, 575.7),
    (660.7, 348.3, 899.0, 574.0),
]
x_ranges = [[0.0, 0.1525], [0.222, 0.587], [0.2913, 0.883], [0.0102, 0.152], [0.162, 0.5666], [0.399, 0.872]]
y_ranges = [[-0.2285, 0.0885], [-0.2935, 0.404], [-0.367, 0.56], [-0.165, 0.15], [-0.396, 0.386], [-0.376, 0.54]]
# legend boxes: left, top, width (pixels)
legend_boxes = [
    (151.5, 142.5, 152), (457.0, 63.5, 149), (664.0, 63.5, 149),
    (149.0, 517.0, 154), (455.0, 517.0, 151), (664.0, 352.5, 149),
]

UPPER_C, MEAN_C, LOWER_C, FIT_C = "#2e2e9e", "#cc3b3b", "#2f8a2f", "#a6a6a6"
DASH = "5px,3px"


def px_x(p):
    return p / W


def px_y(p):
    return 1 - p / H


def expand(points):
    return [p[0] for p in points], [p[1] for p in points]


resp_mean, resp_diff = [], []
for a, preds in zip(resp_actual, resp_predicted):
    for p in preds:
        resp_mean.append((a + p) / 2)
        resp_diff.append(a - p)

series = [
    expand(young_points), expand(adult_points), expand(older_points),
    (resp_mean, resp_diff), expand(circ_points), expand(other_points),
]

fig = go.Figure()
shapes, annotations = [], []
axis_font = dict(family=FONT, size=8.2, color="#111")

for i in range(6):
    sfx = "" if i == 0 else str(i + 1)
    xa, ya = "x" + sfx, "y" + sfx
    l, t, r, b = frames[i]
    mx, dy = series[i]

    fig.add_trace(go.Scatter(
        x=mx, y=dy, mode="markers", xaxis=xa, yaxis=ya, showlegend=False,
        marker=dict(color=POINT_COLOR, size=7, line=dict(width=0)), hoverinfo="skip",
    ))

    fig.layout["xaxis" + sfx] = dict(
        domain=[px_x(l), px_x(r)], range=x_ranges[i], anchor=ya,
        tickvals=x_ticks[i], tickformat=x_fmt[i], tickfont=axis_font,
        showline=True, mirror=True, linecolor="#3a3a3a", linewidth=1,
        ticks="outside", ticklen=3.5, tickwidth=1, tickcolor="#3a3a3a",
        showgrid=False, zeroline=False,
        title=dict(text="Mean of Actual and Predict", font=dict(family=FONT, size=8.4, color="#111"), standoff=3),
    )
    fig.layout["yaxis" + sfx] = dict(
        domain=[px_y(b), px_y(t)], range=y_ranges[i], anchor=xa,
        tickvals=y_ticks[i], tickformat=y_fmt[i], tickfont=axis_font,
        showline=True, mirror=True, linecolor="#3a3a3a", linewidth=1,
        ticks="outside", ticklen=3.5, tickwidth=1, tickcolor="#3a3a3a",
        showgrid=False, zeroline=False,
        title=dict(text="Difference between Actual and Predict", font=dict(family=FONT, size=8.4, color="#111"), standoff=11),
    )

    # limits of agreement and mean difference
    for val, col in ((upper_limit[i], UPPER_C), (mean_diff[i], MEAN_C), (lower_limit[i], LOWER_C)):
        shapes.append(dict(type="line", xref=xa + " domain", yref=ya, x0=0, x1=1, y0=val, y1=val,
                           line=dict(color=col, width=1.4, dash=DASH)))
    # fitted trend of difference against mean
    x0, x1 = x_ranges[i]
    shapes.append(dict(type="line", xref=xa, yref=ya, x0=x0, x1=x1,
                       y0=fit_intercept[i] + fit_slope[i] * x0, y1=fit_intercept[i] + fit_slope[i] * x1,
                       line=dict(color=FIT_C, width=1.0, dash=DASH)))

    # subplot title
    annotations.append(dict(
        x=px_x((l + r) / 2), y=px_y(t - 2), xref="paper", yref="paper", xanchor="center", yanchor="bottom",
        text=f"{panel_names[i]}<br>({model_labels[i]})", showarrow=False,
        font=dict(family=FONT, size=10.5, color="#111"),
    ))

    # legend
    bl, bt, bw = legend_boxes[i]
    bh = 56
    shapes.append(dict(type="rect", xref="paper", yref="paper", x0=px_x(bl), x1=px_x(bl + bw),
                       y0=px_y(bt + bh), y1=px_y(bt), fillcolor="rgba(255,255,255,0.8)",
                       line=dict(color="#d4d4d4", width=1)))
    entries = [
        (f"Upper Limit ({upper_limit[i]:.2f})", UPPER_C),
        (f"Mean Difference ({mean_diff[i]:.2E})", MEAN_C),
        (f"Lower Limit ({lower_limit[i]:.2f})", LOWER_C),
        (f"R² ({r_squared[i]:.2E})", FIT_C),
    ]
    for k, (label, col) in enumerate(entries):
        yy = bt + 9 + 13 * k
        shapes.append(dict(type="line", xref="paper", yref="paper", x0=px_x(bl + 4.5), x1=px_x(bl + 23),
                           y0=px_y(yy), y1=px_y(yy), line=dict(color=col, width=1.4, dash=DASH)))
        annotations.append(dict(x=px_x(bl + 27.5), y=px_y(yy), xref="paper", yref="paper",
                                xanchor="left", yanchor="middle", text=label, showarrow=False,
                                borderpad=0, font=dict(family=FONT, size=8.4, color="#111")))

fig.update_layout(
    width=W, height=H, margin=dict(l=0, r=0, t=0, b=0),
    paper_bgcolor="white", plot_bgcolor="white",
    font=dict(family=FONT, color="#111"),
    title=dict(text="Bland-Altman plot of each subgroup", x=460.5 / W, y=1 - 19 / H,
               xanchor="center", yanchor="middle", xref="paper", yref="container",
               font=dict(family=FONT, size=20, color="#111")),
    shapes=shapes, annotations=annotations, showlegend=False,
)

fig.write_html("out.html")
